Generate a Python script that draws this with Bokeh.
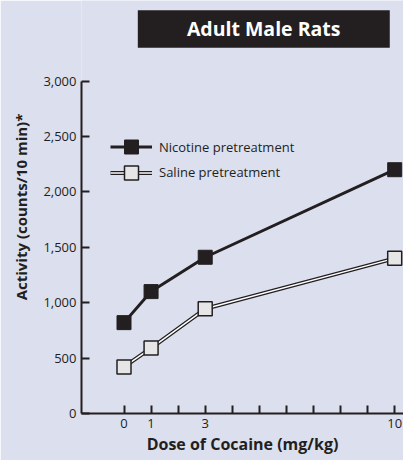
from bokeh.plotting import figure
from bokeh.models import (FixedTicker, NumeralTickFormatter, Legend, LegendItem, Range1d)
from bokeh.core.properties import value
from bokeh.embed import file_html
from bokeh.resources import INLINE

# ---- data ----
doses = [0, 1, 3, 10]
nicotine = [820, 1100, 1410, 2200]
saline = [420, 590, 945, 1400]
x_ticks = list(range(11))
x_tick_labels = {0: "0", 1: "1", 3: "3", 10: "10"}
y_ticks = [0, 500, 1000, 1500, 2000, 2500, 3000]
title_text = "Adult Male Rats"
x_label = "Dose of Cocaine (mg/kg)"
y_label = "Activity (counts/10 min)*"
series_names = ["Nicotine pretreatment", "Saline pretreatment"]

BG = "#dcdfee"
INK = "#231f20"
FONT = "Open Sans"

p = figure(width=403, height=460, output_backend="svg", toolbar_location=None,
           x_range=Range1d(-1.570, 10.325), y_range=Range1d(0, 3727),
           min_border_left=81, min_border_right=0, min_border_top=0, min_border_bottom=47)
p.background_fill_color = BG
p.border_fill_color = BG
p.outline_line_color = None
p.grid.visible = False

# axes
xa = p.xaxis[0]
xa.ticker = FixedTicker(ticks=x_ticks)
xa.major_label_overrides = {t: x_tick_labels.get(t, "") for t in x_ticks}
xa.axis_label = x_label
ya = p.yaxis[0]
ya.ticker = FixedTicker(ticks=y_ticks)
ya.formatter = NumeralTickFormatter(format="0,0")
ya.bounds = (0, 3000)
ya.axis_label = y_label
for ax in (xa, ya):
    ax.axis_line_color = INK
    ax.axis_line_width = 2
    ax.major_tick_line_color = INK
    ax.major_tick_line_width = 2
    ax.major_tick_in = 8
    ax.major_tick_out = 0
    ax.minor_tick_line_color = None
    ax.major_label_text_font = FONT
    ax.major_label_text_font_size = "13px"
    ax.major_label_text_color = INK
    ax.major_label_standoff = 5
    ax.axis_label_text_font = FONT
    ax.axis_label_text_font_style = "bold"
    ax.axis_label_text_color = INK
xa.axis_label_text_font_size = "16px"
xa.axis_label_standoff = 2
ya.axis_label_text_font_size = "15px"
ya.axis_label_standoff = 9

# title box
p.quad(left=[0.510], right=[9.818], bottom=[3300], top=[3640], fill_color=INK, line_color=None)
p.text(x=[5.16], y=[3470], text=[title_text], text_color="white",
       text_font=value(FONT), text_font_style="bold", text_font_size="19.5px",
       text_align="center", text_baseline="middle")

# series
nic_line = p.line(doses, nicotine, line_color=INK, line_width=3)
sal_outer = p.line(doses, saline, line_color=INK, line_width=4)
sal_inner = p.line(doses, saline, line_color="white", line_width=1.5)
nic_pts = p.scatter(doses, nicotine, marker="square", size=14, fill_color=INK, line_color=INK, line_width=1)
sal_pts = p.scatter(doses, saline, marker="square", size=14, fill_color="#e6e6e6", line_color=INK, line_width=1.5)


def make_legend(label, renderers, loc):
    lg = Legend(items=[LegendItem(label=label, renderers=renderers)], location=loc)
    lg.glyph_width = 42
    lg.glyph_height = 35
    lg.padding = 0
    lg.margin = 0
    lg.label_standoff = 7
    lg.label_text_font = FONT
    lg.label_text_font_size = "13px"
    lg.label_text_color = INK
    lg.background_fill_alpha = 0
    lg.border_line_color = None
    return lg


p.add_layout(make_legend(series_names[0], [nic_line, nic_pts], (29, 248.6)), "center")
p.add_layout(make_legend(series_names[1], [sal_outer, sal_inner, sal_pts], (29, 223.5)), "center")

open("out.html", "w").write(file_html(p, INLINE))
